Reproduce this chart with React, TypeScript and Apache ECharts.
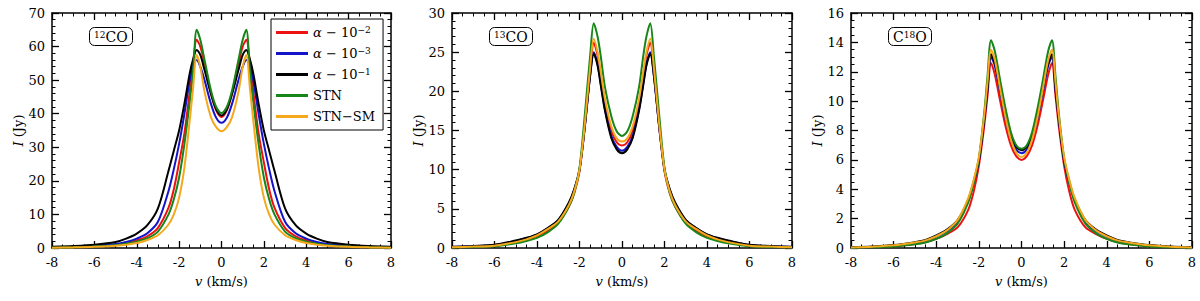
import React, { useEffect, useRef } from "react";
import * as echarts from "echarts";

// ---- Data ----
const V1 = [-8,-7,-6,-5,-4.5,-4,-3.5,-3,-2.5,-2.25,-2,-1.75,-1.5,-1.35,-1.17,-1,-0.8,-0.5,-0.25,0,0.25,0.5,0.8,1,1.17,1.35,1.5,1.75,2,2.25,2.5,3,3.5,4,4.5,5,6,7,8];
const red12 = [0.15,0.3,0.55,1.0,1.5,2.3,3.5,6.0,12,17.5,25.5,34.2,46.5,54.5,62,60,55,46,41,39,41,46,55,60,62,54.5,46.5,34.2,25.5,17.5,12,6.0,3.5,2.3,1.5,1.0,0.55,0.3,0.15];
const blue12 = [0.2,0.4,0.7,1.2,1.8,2.8,4.4,7.8,17,23.5,31,40,50,54.5,56,54,50,43,38.8,37.3,38.8,43,50,54,56,54.5,50,40,31,23.5,17,7.8,4.4,2.8,1.8,1.2,0.7,0.4,0.2];
const black12 = [0.35,0.6,1.0,1.8,2.8,4.3,6.8,11.8,23,29,35,43,52,56,59,57.5,53,46,41.3,39.5,41.3,46,53,57.5,59,56,52,43,35,29,23,11.8,6.8,4.3,2.8,1.8,1.0,0.6,0.35];
const green12 = [0.1,0.25,0.45,0.85,1.3,1.9,2.9,4.9,10,14.5,21,31,43.5,52,65,62,56,47,42,40.2,42,47,56,62,65,52,43.5,31,21,14.5,10,4.9,2.9,1.9,1.3,0.85,0.45,0.25,0.1];
const orange12 = [0.08,0.18,0.35,0.7,1.0,1.5,2.4,3.8,7,10,15,24,38,47,57.5,54,46.5,39,36,34.8,36,39,46.5,54,57.5,47,38,24,15,10,7,3.8,2.4,1.5,1.0,0.7,0.35,0.18,0.08];

const V2 = [-8,-7,-6,-5,-4.5,-4,-3.5,-3,-2.5,-2.25,-2,-1.75,-1.5,-1.33,-1.15,-1,-0.8,-0.5,-0.25,0,0.25,0.5,0.8,1,1.15,1.33,1.5,1.75,2,2.25,2.5,3,3.5,4,4.5,5,6,7,8];
const red13 = [0.08,0.15,0.28,0.7,1.0,1.45,2.2,3.2,5.3,7.0,9.8,15.5,22.5,26.2,24.6,22,18.5,15,13.5,13.1,13.5,15,18.5,22,24.6,26.2,22.5,15.5,9.8,7.0,5.3,3.2,2.2,1.45,1.0,0.7,0.28,0.15,0.08];
const blue13 = [0.14,0.24,0.38,0.9,1.25,1.7,2.5,3.55,5.7,7.4,10,15.5,22,25,23.5,21,17.7,14.3,12.9,12.4,12.9,14.3,17.7,21,23.5,25,22,15.5,10,7.4,5.7,3.55,2.5,1.7,1.25,0.9,0.38,0.24,0.14];
const black13 = [0.15,0.25,0.4,0.95,1.3,1.75,2.55,3.6,5.8,7.5,10,15.5,22,24.8,23.3,20.8,17.5,14,12.6,12.1,12.6,14,17.5,20.8,23.3,24.8,22,15.5,10,7.5,5.8,3.6,2.55,1.75,1.3,0.95,0.4,0.25,0.15];
const green13 = [0.05,0.12,0.22,0.6,0.9,1.3,2.0,3.1,5.3,7.0,10.2,17,24.5,28.7,27,24.5,20.5,16.8,14.9,14.3,14.9,16.8,20.5,24.5,27,28.7,24.5,17,10.2,7.0,5.3,3.1,2.0,1.3,0.9,0.6,0.22,0.12,0.05];
const orange13 = [0.1,0.18,0.3,0.75,1.1,1.6,2.4,3.4,5.5,7.2,10,15.8,23,26.7,25,22.5,19,15.5,14,13.6,14,15.5,19,22.5,25,26.7,23,15.8,10,7.2,5.5,3.4,2.4,1.6,1.1,0.75,0.3,0.18,0.1];

const V3 = [-8,-7,-6,-5,-4.5,-4,-3.5,-3,-2.5,-2.25,-2,-1.75,-1.6,-1.43,-1.25,-1,-0.75,-0.5,-0.25,0,0.25,0.5,0.75,1,1.25,1.43,1.6,1.75,2,2.25,2.5,3,3.5,4,4.5,5,6,7,8];
const red18 = [0.03,0.06,0.12,0.28,0.4,0.62,0.95,1.4,2.6,3.8,5.6,8.3,10.3,12.6,11.8,10,8.3,7.0,6.25,6.0,6.25,7.0,8.3,10,11.8,12.6,10.3,8.3,5.6,3.8,2.6,1.4,0.95,0.62,0.4,0.28,0.12,0.06,0.03];
const blue18 = [0.04,0.08,0.16,0.35,0.5,0.78,1.15,1.8,3.2,4.4,5.9,8.7,10.7,13.0,12.4,10.6,8.8,7.5,6.7,6.45,6.7,7.5,8.8,10.6,12.4,13.0,10.7,8.7,5.9,4.4,3.2,1.8,1.15,0.78,0.5,0.35,0.16,0.08,0.04];
const black18 = [0.05,0.1,0.2,0.4,0.55,0.85,1.25,1.9,3.3,4.5,6.0,8.8,10.8,13.2,12.6,10.8,9.0,7.7,6.9,6.65,6.9,7.7,9.0,10.8,12.6,13.2,10.8,8.8,6.0,4.5,3.3,1.9,1.25,0.85,0.55,0.4,0.2,0.1,0.05];
const green18 = [0.02,0.05,0.1,0.25,0.38,0.62,1.0,1.65,3.1,4.4,6.1,9.2,11.6,14.15,13.4,11.4,9.5,7.9,7.0,6.75,7.0,7.9,9.5,11.4,13.4,14.15,11.6,9.2,6.1,4.4,3.1,1.65,1.0,0.62,0.38,0.25,0.1,0.05,0.02];
const orange18 = [0.04,0.09,0.18,0.38,0.52,0.8,1.2,1.9,3.4,4.6,6.2,9.0,11.2,13.5,12.8,10.8,8.9,7.4,6.5,6.2,6.5,7.4,8.9,10.8,12.8,13.5,11.2,9.0,6.2,4.6,3.4,1.9,1.2,0.8,0.52,0.38,0.18,0.09,0.04];

const seriesNames = ["a2", "a3", "a1", "STN", "STN-SM"];
const legendLabels: Record<string, string> = {
  a2: "{it|α} − 10{sup|−2}",
  a3: "{it|α} − 10{sup|−3}",
  a1: "{it|α} − 10{sup|−1}",
  STN: "STN",
  "STN-SM": "STN−SM",
};
const colors = ["#ee1111", "#1414c8", "#000000", "#178517", "#f5a81c"];
const panelLabels = ["{sup|12}CO", "{sup|13}CO", "C{sup|18}O"];
const yMax = [70, 30, 16];
const yInterval = [10, 5, 2];
const yMinorSplit = [5, 5, 4];
const xTicks = { min: -8, max: 8, interval: 2 };

const panels = [
  { v: V1, data: [red12, blue12, black12, green12, orange12] },
  { v: V2, data: [red13, blue13, black13, green13, orange13] },
  { v: V3, data: [red18, blue18, black18, green18, orange18] },
];

const FONT = "DejaVu Serif";
const gridPos = [
  { left: 52, width: 339 },
  { left: 452, width: 340 },
  { left: 851, width: 341 },
];

export default function App() {
  const ref = useRef<HTMLDivElement>(null);
  useEffect(() => {
    if (!ref.current) return;
    const chart = echarts.init(ref.current, undefined, { renderer: "svg" });
    const grids: any[] = [];
    const xAxes: any[] = [];
    const yAxes: any[] = [];
    const series: any[] = [];
    const titles: any[] = [];
    const lineStyle = { color: "#000", width: 1.5 };
    const labelStyle = { color: "#000", fontFamily: FONT, fontSize: 13 };
    const nameStyle = {
      color: "#000",
      fontFamily: FONT,
      fontSize: 13,
      rich: { it: { fontStyle: "italic", fontFamily: FONT, fontSize: 13, color: "#000" } },
    };
    panels.forEach((p, i) => {
      grids.push({ left: gridPos[i].left, width: gridPos[i].width, top: 13, height: 235 });
      const baseX = {
        type: "value",
        gridIndex: i,
        min: xTicks.min,
        max: xTicks.max,
        interval: xTicks.interval,
        axisLine: { show: true, onZero: false, lineStyle },
        axisTick: { show: true, inside: true, length: 7, lineStyle: { color: "#000", width: 1.3 } },
        minorTick: { show: true, splitNumber: 4, length: 3.5, lineStyle: { color: "#000", width: 1 } },
        splitLine: { show: false },
        minorSplitLine: { show: false },
      };
      xAxes.push({
        ...baseX,
        position: "bottom",
        axisLabel: { ...labelStyle, margin: 8 },
        name: "{it|v} (km/s)",
        nameLocation: "middle",
        nameGap: 27,
        nameTextStyle: nameStyle,
      });
      xAxes.push({ ...baseX, position: "top", axisLabel: { show: false } });
      const baseY = {
        type: "value",
        gridIndex: i,
        min: 0,
        max: yMax[i],
        interval: yInterval[i],
        axisLine: { show: true, onZero: false, lineStyle },
        axisTick: { show: true, inside: true, length: 7, lineStyle: { color: "#000", width: 1.3 } },
        minorTick: { show: true, splitNumber: yMinorSplit[i], length: 3.5, lineStyle: { color: "#000", width: 1 } },
        splitLine: { show: false },
        minorSplitLine: { show: false },
      };
      yAxes.push({
        ...baseY,
        position: "left",
        axisLabel: { ...labelStyle, margin: 7 },
        name: "{it|I} (Jy)",
        nameLocation: "middle",
        nameGap: 27,
        nameTextStyle: nameStyle,
      });
      yAxes.push({ ...baseY, position: "right", axisLabel: { show: false } });
      p.data.forEach((arr, k) => {
        series.push({
          type: "line",
          name: seriesNames[k],
          xAxisIndex: i * 2,
          yAxisIndex: i * 2,
          data: p.v.map((x, j) => [x, arr[j]]),
          symbol: "none",
          smooth: 0.3,
          lineStyle: { color: colors[k], width: 2 },
          itemStyle: { color: colors[k] },
          z: 2 + k,
        });
      });
      titles.push({
        text: panelLabels[i],
        left: gridPos[i].left + 37,
        top: 27,
        borderColor: "#000",
        borderWidth: 1,
        borderRadius: 5,
        padding: [3, 5, 2, 5],
        textStyle: {
          color: "#000",
          fontFamily: FONT,
          fontSize: 14,
          fontWeight: "normal",
          rich: { sup: { fontSize: 9, fontFamily: FONT, verticalAlign: "top", lineHeight: 11 } },
        },
      });
    });

    chart.setOption({
      animation: false,
      backgroundColor: "#fff",
      textStyle: { fontFamily: FONT },
      title: titles,
      grid: grids,
      xAxis: xAxes,
      yAxis: yAxes,
      legend: {
        data: seriesNames,
        left: 271,
        top: 19,
        orient: "vertical",
        icon: "rect",
        itemWidth: 32,
        itemHeight: 3,
        itemGap: 6,
        padding: [6, 8, 6, 5],
        borderColor: "#000",
        borderWidth: 1,
        backgroundColor: "#fff",
        formatter: (n: string) => legendLabels[n],
        textStyle: {
          color: "#000",
          fontFamily: FONT,
          fontSize: 13,
          lineHeight: 15,
          rich: {
            it: { fontStyle: "italic", fontFamily: FONT, fontSize: 13 },
            sup: { fontSize: 9, fontFamily: FONT, verticalAlign: "top", lineHeight: 10 },
          },
        },
      },
      series,
    });
    return () => chart.dispose();
  }, []);
  return <div ref={ref} style={{ position: "fixed", left: 0, top: 0, width: 1200, height: 301 }} />;
}
